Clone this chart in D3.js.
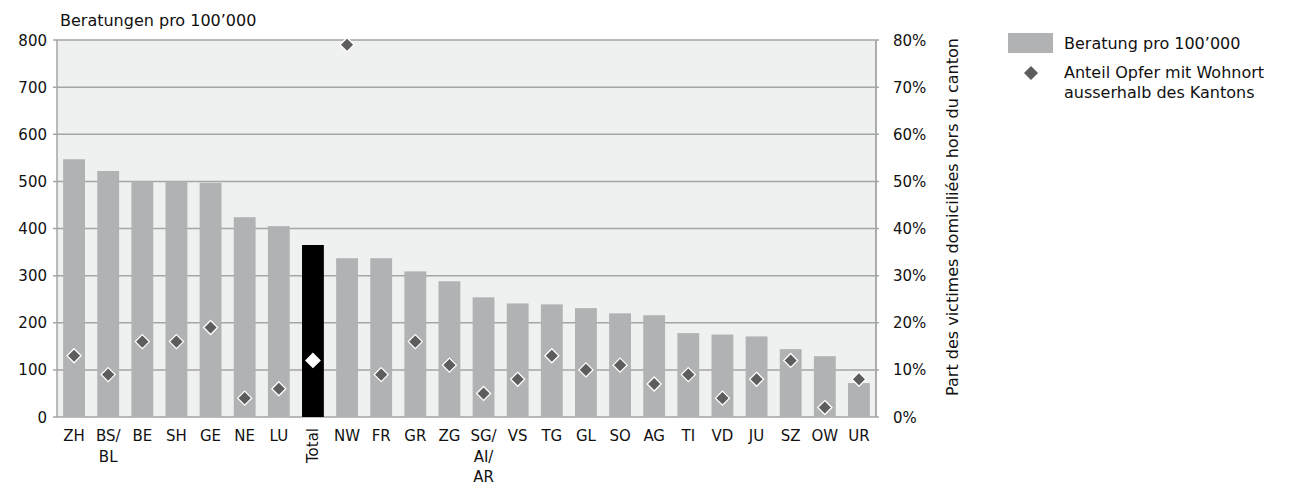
<!DOCTYPE html>
<html><head><meta charset="utf-8">
<script src="https://cdn.jsdelivr.net/npm/d3@7"></script>
<style>body{margin:0;background:#fff}svg{font-family:"DejaVu Sans",sans-serif}</style>
</head><body><svg id="c" width="1289" height="486"></svg>
<script>
const categories = ["ZH","BS/\nBL","BE","SH","GE","NE","LU","Total","NW","FR","GR","ZG","SG/\nAI/\nAR","VS","TG","GL","SO","AG","TI","VD","JU","SZ","OW","UR"];
const beratungen = [547,522,500,500,497,424,405,365,337,337,309,288,254,241,239,231,220,216,178,175,171,144,129,72];
const anteilAusserhalb = [13,9,16,16,19,4,6,12,79,9,16,11,5,8,13,10,11,7,9,4,8,12,2,8];
const leftTicks = [0,100,200,300,400,500,600,700,800];
const rightTicks = [0,10,20,30,40,50,60,70,80];

const svg = d3.select("#c");
const L = 57, R = 876, T = 40, B = 417;
const x = d3.scaleBand().domain(d3.range(categories.length)).range([L, R]).paddingInner(0.36).paddingOuter(0.18);
const y = d3.scaleLinear().domain([0,800]).range([B, T]);
const y2 = d3.scaleLinear().domain([0,80]).range([B, T]);

svg.append("rect").attr("x",L).attr("y",T).attr("width",R-L).attr("height",B-T).attr("fill","#eff0f0");
const grid = "#a4a5a5";
svg.append("g").selectAll("line").data(leftTicks).join("line")
  .attr("x1",L-4).attr("x2",R+3).attr("y1",d=>y(d)).attr("y2",d=>y(d))
  .attr("stroke",grid).attr("stroke-width",1.5);
svg.append("line").attr("x1",L).attr("x2",L).attr("y1",T).attr("y2",B).attr("stroke",grid).attr("stroke-width",1.5);
svg.append("line").attr("x1",R).attr("x2",R).attr("y1",T).attr("y2",B).attr("stroke",grid).attr("stroke-width",1.8);

svg.append("g").selectAll("rect").data(beratungen).join("rect")
  .attr("x",(d,i)=>x(i)).attr("width",x.bandwidth())
  .attr("y",d=>y(d)).attr("height",d=>B-y(d))
  .attr("fill",(d,i)=>categories[i]==="Total"?"#000":"#b1b2b4");

const dsz = 7;
const diamond = (cx,cy)=>`M${cx},${cy-dsz}L${cx+dsz},${cy}L${cx},${cy+dsz}L${cx-dsz},${cy}Z`;
svg.append("g").selectAll("path").data(anteilAusserhalb).join("path")
  .attr("d",(d,i)=>diamond(x(i)+x.bandwidth()/2, y2(d)))
  .attr("fill",(d,i)=>categories[i]==="Total"?"#fff":"#5d5d5d")
  .attr("stroke","#fff").attr("stroke-width",1.3);

const fs = 15, fsl = 16;
svg.append("g").selectAll("text").data(leftTicks).join("text")
  .attr("x",47).attr("y",d=>y(d)+5.5).attr("text-anchor","end").attr("font-size",fs).attr("fill","#111").text(d=>d);
svg.append("g").selectAll("text").data(rightTicks).join("text")
  .attr("x",893).attr("y",d=>y2(d)+5.5).attr("font-size",fs).attr("fill","#111").text(d=>d+"%");

svg.append("text").attr("x",60).attr("y",26).attr("font-size",fsl).attr("fill","#111").text("Beratungen pro 100’000");
svg.append("text").attr("transform","translate(958,217) rotate(-90)").attr("text-anchor","middle")
  .attr("font-size",fsl).attr("fill","#111").text("Part des victimes domiciliées hors du canton");

const cg = svg.append("g");
categories.forEach((c,i)=>{
  const cx = x(i)+x.bandwidth()/2;
  if(c==="Total"){
    cg.append("text").attr("transform",`translate(${cx+5},428) rotate(-90)`).attr("text-anchor","end")
      .attr("font-size",fs).attr("fill","#111").text(c);
  } else {
    c.split("\n").forEach((line,k)=>{
      cg.append("text").attr("x",cx).attr("y",441+k*20.5).attr("text-anchor","middle")
        .attr("font-size",fs).attr("fill","#111").text(line);
    });
  }
});

svg.append("rect").attr("x",1008).attr("y",33).attr("width",45).attr("height",20).attr("fill","#b1b2b4");
svg.append("text").attr("x",1064).attr("y",49).attr("font-size",fsl).attr("fill","#111").text("Beratung pro 100’000");
svg.append("path").attr("d",diamond(1031,73)).attr("fill","#5d5d5d");
svg.append("text").attr("x",1064).attr("y",78).attr("font-size",fsl).attr("fill","#111").text("Anteil Opfer mit Wohnort");
svg.append("text").attr("x",1064).attr("y",98).attr("font-size",fsl).attr("fill","#111").text("ausserhalb des Kantons");
</script></body></html>
